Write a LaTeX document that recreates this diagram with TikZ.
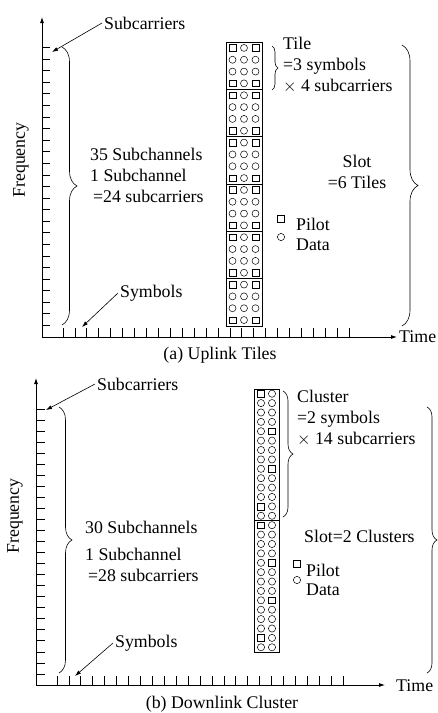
\documentclass[tikz,border=0pt]{standalone}
\usepackage{fontspec}
\setmainfont{Liberation Serif}
\usepackage{tikz}
\usetikzlibrary{arrows.meta, decorations.pathreplacing}

\begin{document}
\begin{tikzpicture}[
          x=1pt, y=-1pt,
          lbl/.style={font=\fontsize{17.8}{21}\selectfont, inner sep=2pt,
                      align=left},
          axis/.style={-{Latex[length=6pt, width=4pt]}, line width=0.8pt},
          tck/.style={line width=0.7pt},
          ptr/.style={-{Latex[length=6pt, width=4pt]}, line width=0.6pt},
          brc/.style={decorate, decoration={brace, amplitude=#1},
                      line width=0.6pt},
          sym/.style={line width=0.5pt}
        ]
        \useasboundingbox (0,0) rectangle (437,713);

        % ---------------- (a) Uplink tiles ----------------
        \coordinate (Oa) at (42,337);
        \coordinate (topA) at (42,17);
        \coordinate (endA) at (397,337);
        \draw[axis] (Oa)--(topA);
        \draw[axis] (Oa)--(endA);
        \foreach \k in {1,...,25} {
          \draw[tck] (42,{337-\k*11.58}) -- ++(8,0);
        }
        \foreach \k in {0,...,24} {
          \draw[tck] ({63+\k*11.92},337) -- ++(0,-9);
        }
        \node[lbl, rotate=90] (freqA) at (21,160) {Frequency};
        \node[lbl, anchor=west] (timeA) at (397,337) {Time};

        \node[lbl, anchor=west] (subcA) at (102,23) {Subcarriers};
        \coordinate (subtipA) at (52,52);
        \draw[ptr] (subcA.west)--(subtipA);
        \node[lbl, anchor=west] (symA) at (118,293) {Symbols};
        \coordinate (symtipA) at (82,327);
        \draw[ptr] (symA.west)--(symtipA);

        \draw[brc=15] (62,47)--(62,325);
        \node[lbl, anchor=west] (subchA) at (88,175)
              {35 Subchannels\\1 Subchannel\\\,=24 subcarriers};

        % tiles: 6 x (3 symbols x 4 subcarriers)
        \foreach \t in {0,...,5} {
          \draw[sym] (226,{42+\t*47.33}) rectangle (262,{42+(\t+1)*47.33});
          \foreach \r in {1,...,4} {
            \foreach \c in {1,2,3} {
              \pgfmathtruncatemacro{\isp}{((\r==1)||(\r==4))&&(\c!=2)}
              \pgfmathsetmacro{\sx}{221+\c*11.5}
              \pgfmathsetmacro{\sy}{42+\t*47.33+(\r-0.5)*11.83}
              \ifnum\isp=1
                \draw[sym] ({\sx-3.3},{\sy-3.3}) rectangle ++(6.6,6.6);
              \else
                \draw[sym] (\sx,\sy) circle (3.5pt);
              \fi
            }
          }
        }

        \draw[brc=6] (272,46)--(272,90);
        \node[lbl, anchor=west] (tileA) at (281,65)
              {Tile\\=3 symbols\\$\times$ 4 subcarriers};
        \draw[brc=16] (402,45)--(402,326);
        \node[lbl, align=center] (slotA) at (357,172) {Slot\\=6 Tiles};

        % legend
        \draw[sym] (277.5,215.5) rectangle ++(7,7);
        \draw[sym] (281,237) circle (3.6pt);
        \node[lbl, anchor=west] (pilotA) at (294,224) {Pilot};
        \node[lbl, anchor=west] (dataA) at (294,245) {Data};

        \node[lbl] (capA) at (220,355) {(a) Uplink Tiles};

        % ---------------- (b) Downlink cluster ----------------
        \coordinate (Ob) at (36,685);
        \coordinate (topB) at (36,378);
        \coordinate (endB) at (385,685);
        \draw[axis] (Ob)--(topB);
        \draw[axis] (Ob)--(endB);
        \foreach \k in {1,...,25} {
          \draw[tck] (36,{685-\k*11.04}) -- ++(9,0);
        }
        \foreach \k in {0,...,24} {
          \draw[tck] ({57+\k*11.92},685) -- ++(0,-9);
        }
        \node[lbl, rotate=90] (freqB) at (15,516) {Frequency};
        \node[lbl, anchor=west] (timeB) at (394,686) {Time};

        \node[lbl, anchor=west] (subcB) at (95,384) {Subcarriers};
        \coordinate (subtipB) at (46,410);
        \draw[ptr] (subcB.west)--(subtipB);
        \node[lbl, anchor=west] (symB) at (113,643) {Symbols};
        \coordinate (symtipB) at (75,676);
        \draw[ptr] (symB.west)--(symtipB);

        \draw[brc=13] (59,407)--(59,673);
        \node[lbl, anchor=west] (subchB) at (83,551)
              {30 Subchannels\\[6pt]1 Subchannel\\\,=28 subcarriers};

        % clusters: 2 x (2 symbols x 14 subcarriers)
        \foreach \cl in {0,1} {
          \draw[sym] (254,{389+\cl*131.5}) rectangle (279,{389+(\cl+1)*131.5});
          \foreach \r in {1,...,14} {
            \foreach \c in {1,2} {
              \pgfmathtruncatemacro{\isp}{((\r==1)&&(\c==1))||((\r==5)&&(\c==2))||((\r==9)&&(\c==2))||((\r==13)&&(\c==1))}
              \pgfmathsetmacro{\sx}{250+\c*11}
              \pgfmathsetmacro{\sy}{389+\cl*131.5+(\r-0.5)*9.39}
              \ifnum\isp=1
                \draw[sym] ({\sx-3.4},{\sy-3.4}) rectangle ++(6.8,6.8);
              \else
                \draw[sym] (\sx,\sy) circle (3.6pt);
              \fi
            }
          }
        }

        \draw[brc=10] (283,391)--(283,517);
        \node[lbl, anchor=west] (clustB) at (295,418)
              {Cluster\\=2 symbols\\$\times$ 14 subcarriers};
        \draw[brc=10] (427,407)--(427,673);
        \node[lbl, anchor=west] (slotB) at (302,536) {Slot=2 Clusters};

        % legend
        \draw[sym] (293.5,560.5) rectangle ++(7,7);
        \draw[sym] (297,580) circle (3.6pt);
        \node[lbl, anchor=west] (pilotB) at (304,570) {Pilot};
        \node[lbl, anchor=west] (dataB) at (304,590) {Data};

        \node[lbl] (capB) at (222,704) {(b) Downlink Cluster};
      \end{tikzpicture}
\end{document}
